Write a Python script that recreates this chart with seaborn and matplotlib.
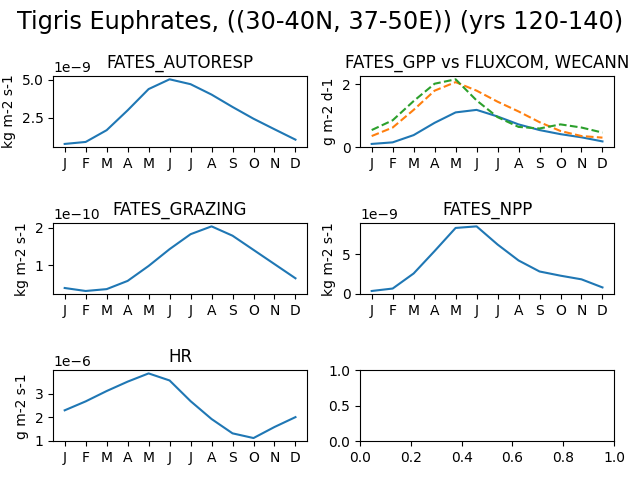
import numpy as np
import seaborn as sns
import matplotlib
matplotlib.use("Agg")
import matplotlib.pyplot as plt

months = ['J', 'F', 'M', 'A', 'M', 'J', 'J', 'A', 'S', 'O', 'N', 'D']

autoresp = [0.79, 0.92, 1.69, 2.99, 4.38, 5.02, 4.70, 4.02, 3.21, 2.44, 1.75, 1.07]  # 1e-9
gpp_fates = [0.10, 0.15, 0.38, 0.77, 1.10, 1.18, 0.97, 0.72, 0.54, 0.41, 0.31, 0.18]
gpp_fluxcom = [0.35, 0.62, 1.18, 1.79, 2.06, 1.79, 1.44, 1.13, 0.79, 0.51, 0.35, 0.30]
gpp_wecann = [0.54, 0.85, 1.46, 2.01, 2.15, 1.48, 0.95, 0.64, 0.59, 0.72, 0.62, 0.46]
grazing = [0.39, 0.31, 0.36, 0.58, 0.98, 1.43, 1.83, 2.04, 1.79, 1.41, 1.03, 0.65]  # 1e-10
npp = [0.37, 0.68, 2.58, 5.41, 8.32, 8.52, 6.23, 4.22, 2.83, 2.30, 1.84, 0.82]  # 1e-9
hr = [2.29, 2.67, 3.11, 3.51, 3.86, 3.56, 2.68, 1.92, 1.31, 1.11, 1.58, 2.00]  # 1e-6

x = np.arange(12)

fig, axes = plt.subplots(3, 2, figsize=(6.4, 4.8))
fig.suptitle('Tigris Euphrates, ((30-40N, 37-50E)) (yrs 120-140)', fontsize='xx-large')

panels = [
    (axes[0, 0], 'FATES_AUTORESP', 'kg m-2 s-1', [(np.array(autoresp) * 1e-9, '-')]),
    (axes[0, 1], 'FATES_GPP vs FLUXCOM, WECANN', 'g m-2 d-1',
     [(gpp_fates, '-'), (gpp_fluxcom, '--'), (gpp_wecann, '--')]),
    (axes[1, 0], 'FATES_GRAZING', 'kg m-2 s-1', [(np.array(grazing) * 1e-10, '-')]),
    (axes[1, 1], 'FATES_NPP', 'kg m-2 s-1', [(np.array(npp) * 1e-9, '-')]),
    (axes[2, 0], 'HR', 'g m-2 s-1', [(np.array(hr) * 1e-6, '-')]),
]

for ax, title, unit, series in panels:
    for i, (vals, ls) in enumerate(series):
        sns.lineplot(x=x, y=vals, ax=ax, color='C%d' % i, linestyle=ls)
    ax.set_title(title)
    ax.set_ylabel(unit)
    ax.set_xticks(x)
    ax.set_xticklabels(months)

plt.tight_layout()
plt.savefig("out.png", dpi=100)
